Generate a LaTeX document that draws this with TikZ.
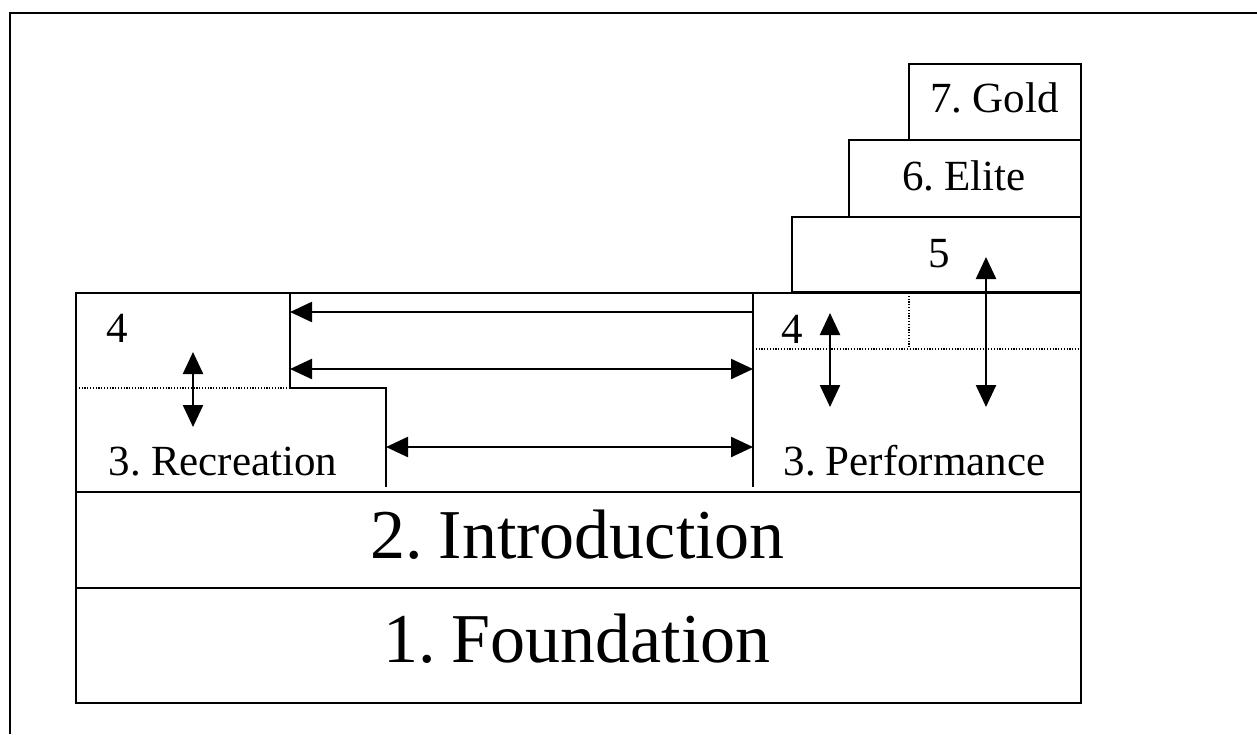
\documentclass[tikz,border=0pt]{standalone}
\usepackage{fontspec}
\setmainfont[WordSpace=0.6]{Liberation Serif}
\usetikzlibrary{arrows.meta}
\begin{document}
\begin{tikzpicture}[x=1pt,y=-1pt,
  frameline/.style={line width=2.2pt},
  boxline/.style={draw, line width=2.2pt, inner sep=0pt, outer sep=0pt},
  dotline/.style={line width=1.2pt, dash pattern=on 1.2pt off 1.6pt},
  arr/.style={line width=2.4pt, -{Triangle[length=22pt,width=20pt]}},
  darr/.style={line width=2.4pt, {Triangle[length=22pt,width=20pt]}-{Triangle[length=22pt,width=20pt]}},
  small/.style={font=\fontsize{43}{43}\selectfont, inner sep=0pt, anchor=base},
  big/.style={font=\fontsize{70}{70}\selectfont, inner sep=0pt, anchor=base}]
\useasboundingbox (0,0) rectangle (1257,734);
% outer frame (top and left only)
\draw[frameline] (10,734) -- (10,13) -- (1257,13);
% boxes
\node[boxline, minimum width=1005pt, minimum height=115pt] (found) at (578.5,645.5) {};
\node[boxline, minimum width=1005pt, minimum height=96pt] (intro) at (578.5,540) {};
\node[boxline, minimum width=1005pt, minimum height=199pt] (row) at (578.5,392.5) {};
\node[boxline, minimum width=289pt, minimum height=75pt] (b5) at (936.5,254.5) {};
\node[boxline, minimum width=232pt, minimum height=77pt] (b6) at (965,178.5) {};
\node[boxline, minimum width=172pt, minimum height=76pt] (b7) at (995,102) {};
% recreation block outline
\coordinate (r1) at (290,293);
\coordinate (r2) at (290,388);
\coordinate (r3) at (386,388);
\coordinate (r4) at (386,487);
\draw[line width=2.2pt] (r1) -- (r2) -- (r3) -- (r4);
% performance block outline
\coordinate (p1) at (753,293);
\coordinate (p2) at (753,487);
\draw[line width=2.2pt] (p1) -- (p2);
% dotted level-4 dividers
\coordinate (d1) at (76,388);
\draw[dotline] (d1) -- (r2);
\coordinate (d2) at (753,349);
\coordinate (d3) at (1081,349);
\draw[dotline] (d2) -- (d3);
\coordinate (d4) at (909,293);
\coordinate (d5) at (909,349);
\draw[dotline] (d4) -- (d5);
% texts
\node[big] (tfound) at (577,662) {1. Foundation};
\node[big] (tintro) at (577.5,558) {2. Introduction};
\node[small] (trec) at (223,475) {3. Recreation};
\node[small] (tperf) at (914.5,475) {3. Performance};
\node[small] (t4l) at (117.5,342) {4};
\node[small] (t4r) at (792,343) {4};
\node[small] (t5) at (939,267) {5};
\node[small] (t6) at (964,190) {6. Elite};
\node[small] (t7) at (994.5,112) {7. Gold};
% horizontal arrows
\coordinate (a1r) at (753,312);
\coordinate (a1l) at (290,312);
\draw[arr] (a1r) -- (a1l);
\coordinate (a2l) at (290,369);
\coordinate (a2r) at (753,369);
\draw[darr] (a2l) -- (a2r);
\coordinate (a3l) at (386,447);
\coordinate (a3r) at (753,447);
\draw[darr] (a3l) -- (a3r);
% vertical arrows
\coordinate (v1t) at (193,352);
\coordinate (v1b) at (193,427);
\draw[darr] (v1t) -- (v1b);
\coordinate (v2t) at (830,313);
\coordinate (v2b) at (830,407);
\draw[darr] (v2t) -- (v2b);
\coordinate (v3t) at (986,257);
\coordinate (v3b) at (986,407);
\draw[darr] (v3t) -- (v3b);
\end{tikzpicture}
\end{document}
